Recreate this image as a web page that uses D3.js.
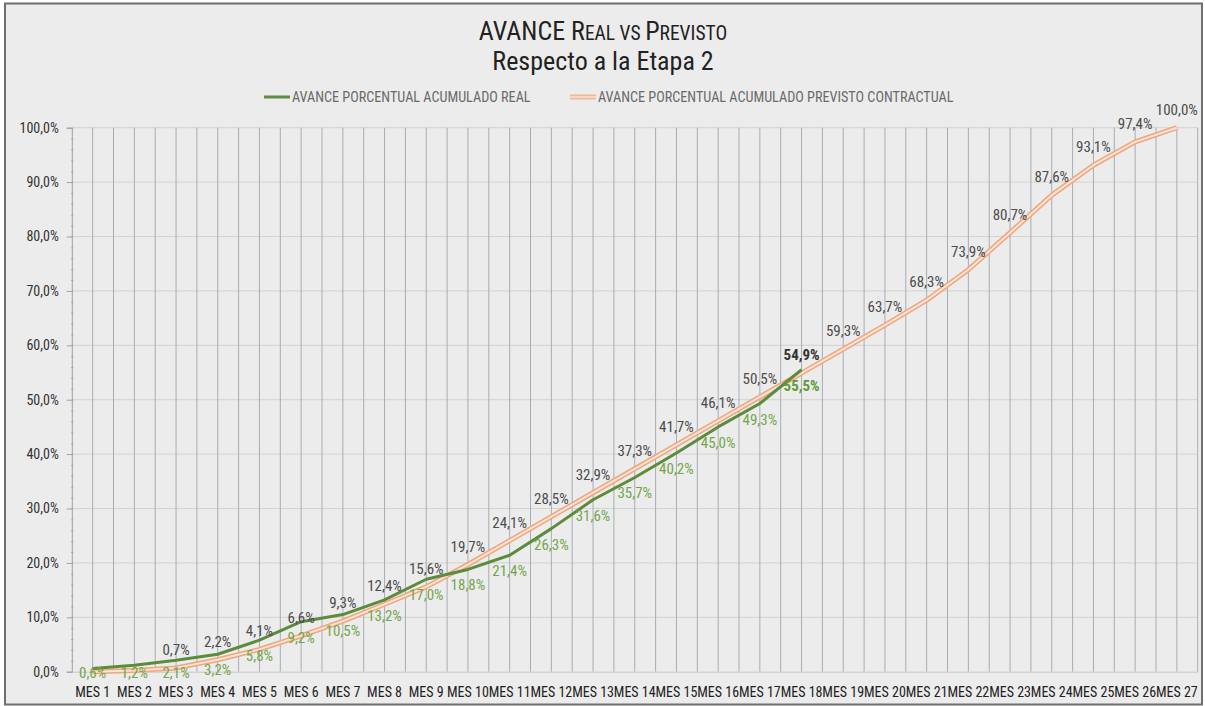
<!DOCTYPE html>
<html>
<head>
<meta charset="utf-8">
<script src="https://cdn.jsdelivr.net/npm/d3@7"></script>
<style>
  html, body { margin: 0; padding: 0; background: #ffffff; }
  svg { display: block; }
  text { font-family: "Liberation Sans Narrow", "Arial Narrow", "Roboto Condensed", "DejaVu Sans Condensed", sans-serif; }
</style>
</head>
<body>
<svg id="chart" width="1205" height="706"></svg>
<script>
// ---------------- DATA ----------------
const months = ["MES 1","MES 2","MES 3","MES 4","MES 5","MES 6","MES 7","MES 8","MES 9","MES 10",
  "MES 11","MES 12","MES 13","MES 14","MES 15","MES 16","MES 17","MES 18","MES 19","MES 20",
  "MES 21","MES 22","MES 23","MES 24","MES 25","MES 26","MES 27"];
// Avance porcentual acumulado real (hasta MES 18)
const realValues = [0.6, 1.2, 2.1, 3.2, 5.8, 9.2, 10.5, 13.2, 17.0, 18.8, 21.4, 26.3, 31.6, 35.7, 40.2, 45.0, 49.3, 55.5];
// Avance porcentual acumulado previsto contractual
const previstoValues = [0.0, 0.2, 0.7, 2.2, 4.1, 6.6, 9.3, 12.4, 15.6, 19.7, 24.1, 28.5, 32.9, 37.3, 41.7, 46.1, 50.5, 54.9,
  59.3, 63.7, 68.3, 73.9, 80.7, 87.6, 93.1, 97.4, 100.0];
const previstoLabelShown = months.map((m, i) => i >= 2);
const highlightMonth = "MES 18";
const yTicks = [0, 10, 20, 30, 40, 50, 60, 70, 80, 90, 100];
const yMinorTicks = d3.range(0, 101, 2);
const seriesNames = ["AVANCE PORCENTUAL ACUMULADO REAL", "AVANCE PORCENTUAL ACUMULADO PREVISTO CONTRACTUAL"];

// ---------------- SETUP ----------------
const svg = d3.select("#chart");
const W = 1205, H = 706;
const plot = { left: 71.8, right: 1197.7, top: 127.7, bottom: 671.7 };

const loc = d3.formatLocale({ decimal: ",", thousands: ".", grouping: [3], currency: ["", "€"], percent: "%" });
const pct = v => loc.format(".1f")(v) + "%";

const x = d3.scaleBand().domain(months).range([plot.left, plot.right]).padding(0);
const cx = m => x(m) + x.bandwidth() / 2;
const y = d3.scaleLinear().domain([0, 100]).range([plot.bottom, plot.top]);

// background + frame
svg.append("rect").attr("x", 0).attr("y", 0).attr("width", W).attr("height", H).attr("fill", "#ffffff");
svg.append("rect").attr("x", 5).attr("y", 3.5).attr("width", 1197).attr("height", 701)
  .attr("fill", "#ececec").attr("stroke", "#6f6f6f").attr("stroke-width", 2);

// title
const title = svg.append("text").attr("x", 603).attr("y", 39.5).attr("text-anchor", "middle")
  .attr("fill", "#222").style("font-size", "26px");
title.append("tspan").text("AVANCE R");
title.append("tspan").style("font-size", "19.5px").text("EAL VS ");
title.append("tspan").text("P");
title.append("tspan").style("font-size", "19.5px").text("REVISTO");
svg.append("text").attr("x", 603).attr("y", 69.5).attr("text-anchor", "middle")
  .attr("fill", "#222").style("font-size", "26px").text("Respecto a la Etapa 2");

// legend
const legend = svg.append("g");
legend.append("line").attr("x1", 264).attr("x2", 290).attr("y1", 97).attr("y2", 97)
  .attr("stroke", "#5f8f3e").attr("stroke-width", 3);
legend.append("text").attr("x", 292).attr("y", 102).attr("fill", "#6a6a6a").style("font-size", "14.2px").text(seriesNames[0]);
legend.append("line").attr("x1", 570).attr("x2", 596).attr("y1", 97).attr("y2", 97)
  .attr("stroke", "#f0b896").attr("stroke-width", 5);
legend.append("line").attr("x1", 570).attr("x2", 596).attr("y1", 97).attr("y2", 97)
  .attr("stroke", "#f8e2d4").attr("stroke-width", 1.5);
legend.append("text").attr("x", 598).attr("y", 102).attr("fill", "#6a6a6a").style("font-size", "14.2px").text(seriesNames[1]);

// horizontal gridlines
svg.append("g").selectAll("line").data(yTicks.slice(1)).join("line")
  .attr("x1", plot.left).attr("x2", plot.right)
  .attr("y1", d => y(d)).attr("y2", d => y(d))
  .attr("stroke", "#d2d2d2").attr("stroke-width", 1);

// vertical gridlines (category centers and boundaries)
const vLines = [];
months.forEach((m, i) => { if (i > 0) vLines.push(x(m)); vLines.push(cx(m)); });
vLines.push(plot.right);
svg.append("g").selectAll("line").data(vLines).join("line")
  .attr("x1", d => d).attr("x2", d => d)
  .attr("y1", plot.top).attr("y2", plot.bottom)
  .attr("stroke", "#a7adb6").attr("stroke-width", 1);

// y axis
const yAxis = d3.axisLeft(y).tickValues(yTicks).tickFormat(pct).tickSize(5).tickPadding(8);
const gy = svg.append("g").attr("transform", `translate(${plot.left},0)`).call(yAxis);
gy.select(".domain").attr("stroke", "#a0a0a0");
gy.selectAll(".tick line").attr("stroke", "#a0a0a0");
gy.selectAll("text").attr("fill", "#333").style("font-size", "14px");
const yMinor = d3.axisLeft(y).tickValues(yMinorTicks).tickFormat("").tickSize(2);
const gym = svg.append("g").attr("transform", `translate(${plot.left + 1.5},0)`).call(yMinor);
gym.select(".domain").remove();
gym.selectAll(".tick line").attr("stroke", "#a0a0a0");

// x axis
const xAxis = d3.axisBottom(x).tickSize(0).tickPadding(15);
const gx = svg.append("g").attr("transform", `translate(0,${plot.bottom})`).call(xAxis);
gx.select(".domain").attr("stroke", "#c8c8c8");
gx.selectAll("text").attr("fill", "#222").style("font-size", "14px");

// series data
const realData = realValues.map((v, i) => ({ m: months[i], v }));
const prevData = previstoValues.map((v, i) => ({ m: months[i], v, show: previstoLabelShown[i] }));
const line = d3.line().x(d => cx(d.m)).y(d => y(d.v));

// previsto: double line
svg.append("path").datum(prevData).attr("d", line).attr("fill", "none")
  .attr("stroke", "#eea67c").attr("stroke-width", 5).attr("stroke-linejoin", "round");
svg.append("path").datum(prevData).attr("d", line).attr("fill", "none")
  .attr("stroke", "#fae3d6").attr("stroke-width", 2).attr("stroke-linejoin", "round");

// real
svg.append("path").datum(realData).attr("d", line).attr("fill", "none")
  .attr("stroke", "#5c8c3b").attr("stroke-width", 3).attr("stroke-linejoin", "round");

// labels previsto (above)
svg.append("g").selectAll("text").data(prevData.filter(d => d.show)).join("text")
  .attr("x", d => cx(d.m)).attr("y", d => y(d.v) - 13)
  .attr("text-anchor", "middle")
  .attr("fill", d => d.m === highlightMonth ? "#333" : "#4d4d4d")
  .style("font-weight", d => d.m === highlightMonth ? "bold" : "normal")
  .style("font-size", "15px")
  .text(d => pct(d.v));

// labels real (below), kept above the month labels
svg.append("g").selectAll("text").data(realData).join("text")
  .attr("x", d => cx(d.m)).attr("y", d => Math.min(y(d.v) + 21, plot.bottom + 6))
  .attr("text-anchor", "middle")
  .attr("fill", d => d.m === highlightMonth ? "#5e9a3a" : "#74a64c")
  .style("font-weight", d => d.m === highlightMonth ? "bold" : "normal")
  .style("font-size", "15px")
  .text(d => pct(d.v));
</script>
</body>
</html>
